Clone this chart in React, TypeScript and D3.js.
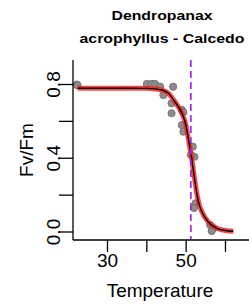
import React from "react";
import * as d3 from "d3";

const W = 249;
const H = 304;

const titleLines = ["Dendropanax", "acrophyllus - Calcedo"];
const xLabel = "Temperature";
const yLabel = "Fv/Fm";

const xTicks = [30, 40, 50, 60];
const xTickLabels = ["30", "", "50", ""];
const yTicks = [0, 0.2, 0.4, 0.6, 0.8];
const yTickLabels = ["0.0", "", "0.4", "", "0.8"];

// observed points
const obsTemp = [22.2, 22.4, 40.0, 41.2, 42.1, 43.4, 44.2, 46.7, 46.3, 46.3, 48.9, 49.3, 48.9, 49.3, 51.7, 52.1, 51.2, 52.4, 52.0, 56.1, 56.9, 56.5];
const obsFv = [0.80, 0.795, 0.803, 0.803, 0.803, 0.788, 0.743, 0.788, 0.698, 0.644, 0.662, 0.650, 0.580, 0.544, 0.463, 0.408, 0.418, 0.156, 0.13, 0.038, 0.020, 0.005];

// fitted curve
const fitTemp = [22.4, 30, 36, 40, 42, 43.9, 45.4, 47.2, 48.9, 50.0, 50.6, 51.4, 52.0, 52.7, 53.3, 54.0, 55.6, 57.8, 60, 62];
const fitFv = [0.78, 0.78, 0.78, 0.779, 0.776, 0.77, 0.754, 0.705, 0.645, 0.575, 0.5, 0.4, 0.31, 0.21, 0.15, 0.11, 0.055, 0.02, 0.008, 0.004];

const t50 = [51.2];

const PL = 73, PR = 251, PT = 60, PB = 240;

export default function App() {
  const x = d3.scaleLinear().domain([21.23, 66.49]).range([PL, PR]);
  const y = d3.scaleLinear().domain([0, 0.8]).range([232, 84.5]);
  const line = d3
    .line<number>()
    .x((_, i) => x(fitTemp[i]))
    .y((d) => y(d))
    .curve(d3.curveMonotoneX);
  const path = line(fitFv) || "";
  const font = "'Liberation Sans', Arial, sans-serif";
  return (
    <svg
      width={W}
      height={H}
      style={{ position: "absolute", left: 0, top: 0, background: "#fff" }}
      fontFamily={font}
    >
      <defs>
        <clipPath id="plot">
          <rect x={PL} y={PT} width={PR - PL} height={PB - PT} />
        </clipPath>
      </defs>
      <text x={162} y={19.5} textAnchor="middle" fontWeight="bold" fontSize={13} textLength={101} lengthAdjust="spacingAndGlyphs">
        {titleLines[0]}
      </text>
      <text x={162} y={43} textAnchor="middle" fontWeight="bold" fontSize={13} textLength={165} lengthAdjust="spacingAndGlyphs">
        {titleLines[1]}
      </text>
      <g clipPath="url(#plot)">
        {obsTemp.map((t, i) => (
          <circle key={i} cx={x(t)} cy={y(obsFv[i])} r={3.6} fill="#8c8c8c" stroke="#6a6a6a" strokeWidth={0.8} />
        ))}
        <path d={path} fill="none" stroke="#ff1a1a" strokeOpacity={0.8} strokeWidth={5} />
        <path d={path} fill="none" stroke="#000" strokeWidth={1.4} />
        {t50.map((t, i) => (
          <line key={i} x1={x(t)} x2={x(t)} y1={PT} y2={PB} stroke="#a020f0" strokeWidth={1.6} strokeDasharray="7,4" />
        ))}
      </g>
      {/* axes */}
      <line x1={PL} x2={PL} y1={PT} y2={PB} stroke="#000" strokeWidth={1.3} />
      <line x1={PL} x2={PR} y1={PB} y2={PB} stroke="#000" strokeWidth={1.3} />
      {xTicks.map((t, i) => (
        <g key={i}>
          <line x1={x(t)} x2={x(t)} y1={PB} y2={PB + 12} stroke="#000" strokeWidth={1.3} />
          {xTickLabels[i] && (
            <text x={x(t)} y={267} textAnchor="middle" fontSize={19}>
              {xTickLabels[i]}
            </text>
          )}
        </g>
      ))}
      {yTicks.map((t, i) => (
        <g key={i}>
          <line x1={PL - 14} x2={PL} y1={y(t)} y2={y(t)} stroke="#000" strokeWidth={1.3} />
          {yTickLabels[i] && (
            <text transform={`translate(60,${y(t)}) rotate(-90)`} textAnchor="middle" fontSize={19}>
              {yTickLabels[i]}
            </text>
          )}
        </g>
      ))}
      <text x={160} y={297} textAnchor="middle" fontSize={19}>
        {xLabel}
      </text>
      <text transform={`translate(33,150) rotate(-90)`} textAnchor="middle" fontSize={19}>
        {yLabel}
      </text>
    </svg>
  );
}
